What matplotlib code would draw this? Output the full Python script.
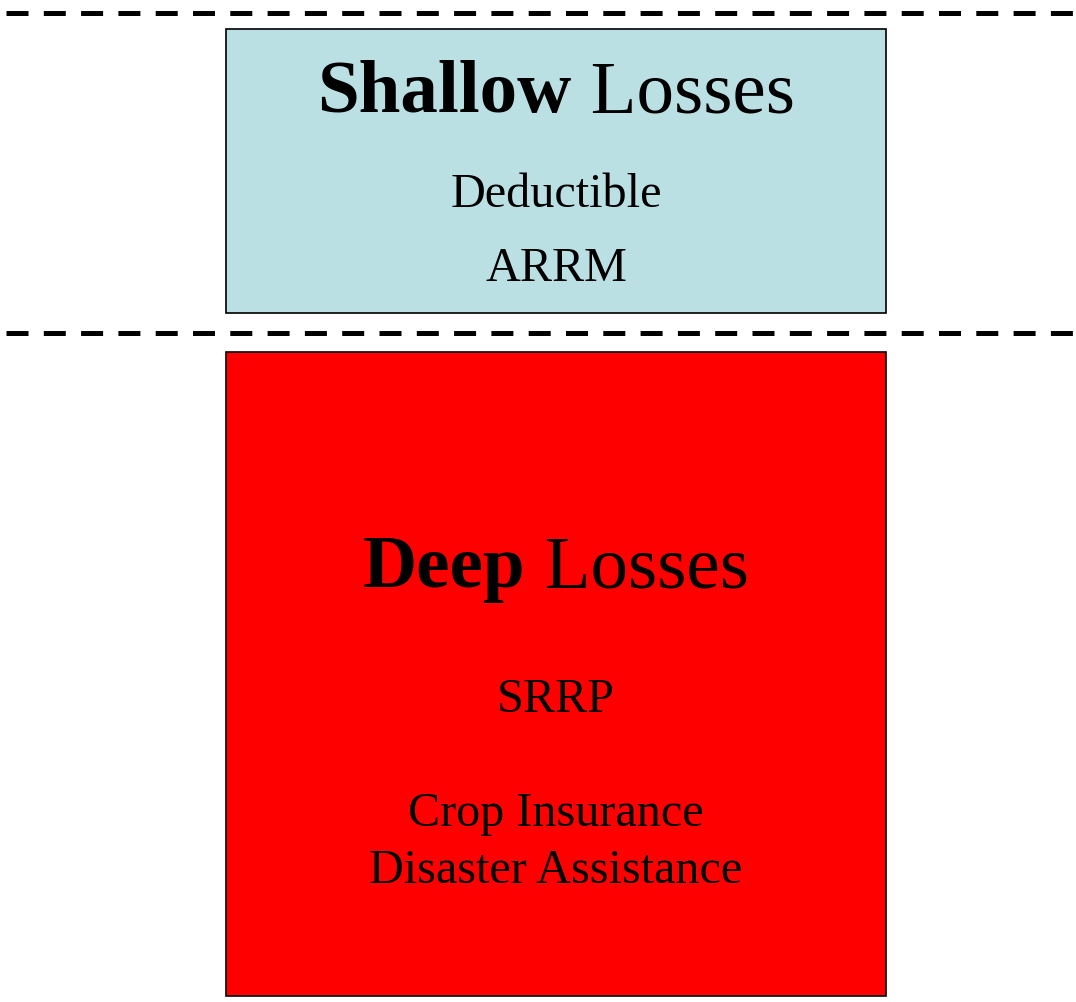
import matplotlib
matplotlib.use("Agg")
import matplotlib.pyplot as plt
from matplotlib.patches import Rectangle

# boxes: (left, top, right, bottom) in pixel space, fill colour
box_names = ["Shallow", "Deep"]
box_bounds = [(226, 30, 886, 314), (226, 353, 886, 997)]
box_colors = ["#BBE0E3", "#FF0000"]

# dashed separator lines (y in pixels)
separator_y = [13.5, 333.5]

# headers: bold word, normal word, baseline y
header_bold = ["Shallow", "Deep"]
header_rest = [" Losses", " Losses"]
header_y = [112, 587]

# programme labels and their baselines
labels = ["Deductible", "ARRM", "SRRP", "Crop Insurance", "Disaster Assistance"]
label_y = [207, 281, 712, 826, 883]

W, H = 1076, 1003
cx = 556

plt.rcParams["font.family"] = ["Liberation Serif", "DejaVu Serif"]

fig = plt.figure(figsize=(W / 100, H / 100), dpi=100)
ax = fig.add_axes([0, 0, 1, 1])
ax.set_xlim(0, W)
ax.set_ylim(H, 0)
ax.axis("off")

for y in separator_y:
    ax.plot([6, W], [y, y], color="black", linewidth=3.6,
            dashes=(22 / 5, 15.3 / 5), solid_capstyle="butt")

for (l, t, r, b), c in zip(box_bounds, box_colors):
    ax.add_patch(Rectangle((l, t), r - l, b - t, facecolor=c,
                           edgecolor="black", linewidth=1.2))

fig.canvas.draw()
renderer = fig.canvas.get_renderer()
for bold, rest, y in zip(header_bold, header_rest, header_y):
    t1 = ax.text(0, y, bold, fontsize=54, fontweight="bold", va="baseline", ha="left")
    t2 = ax.text(0, y, rest, fontsize=54, va="baseline", ha="left")
    w1 = t1.get_window_extent(renderer).width
    w2 = t2.get_window_extent(renderer).width
    x0 = cx - (w1 + w2) / 2
    t1.set_x(x0)
    t2.set_x(x0 + w1)

for s, y in zip(labels, label_y):
    ax.text(cx, y, s, fontsize=34.7, va="baseline", ha="center")

fig.savefig("out.png", dpi=100)
